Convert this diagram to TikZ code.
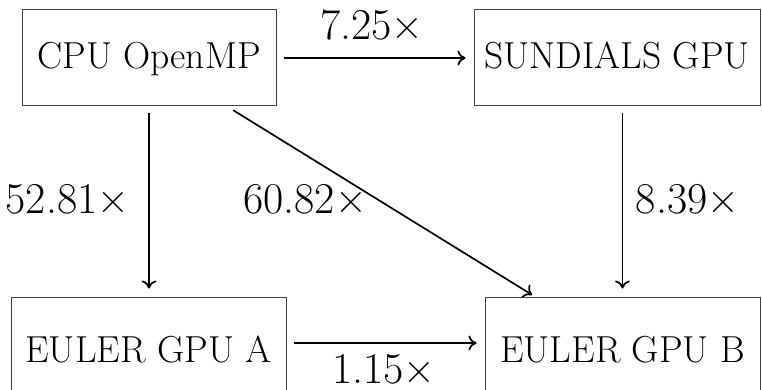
\documentclass[tikz,border=0pt]{standalone}
\usetikzlibrary{arrows.meta}
\begin{document}
\begin{tikzpicture}[x=1pt,y=-1pt,
  box/.style={draw=black!75, line width=1pt, inner sep=0pt,
    text height=25.7pt, text depth=3.7pt,
    font=\fontsize{37.6}{42}\selectfont},
  arr/.style={-{To[length=8pt,width=15pt]}, line width=1.7pt, shorten <=7pt, shorten >=8pt},
  lab/.style={anchor=base, inner sep=0pt, font=\fontsize{44}{50}\selectfont}]
\useasboundingbox (0,0) rectangle (762,390);
\clip (0,0) rectangle (762,390);
\node[box, minimum width=254pt, minimum height=96pt] (cpu) at (149,58) {CPU OpenMP};
\node[box, minimum width=286pt, minimum height=96pt] (sun) at (617,58) {SUNDIALS GPU};
\node[box, minimum width=275pt, minimum height=108pt] (ea) at (148.5,351) {EULER GPU A};
\node[box, minimum width=275pt, minimum height=108pt] (eb) at (622.5,351) {EULER GPU B};
\draw[arr] (cpu) -- (sun);
\draw[arr] (cpu.south) -- (ea.north -| cpu.south);
\draw[arr] (sun.south -| eb.north) -- (eb.north);
\draw[arr, shorten >=3pt] (cpu) -- (eb);
\draw[arr] (ea.east |- 0,343) -- (eb.west |- 0,343);
\node[lab] (l1) at (372,40) {7.25×};
\node[lab] (l2) at (67.5,213) {52.81×};
\node[lab] (l3) at (305,213) {60.82×};
\node[lab] (l4) at (687.5,213) {8.39×};
\node[lab] (l5) at (384,383) {1.15×};
\end{tikzpicture}
\end{document}
